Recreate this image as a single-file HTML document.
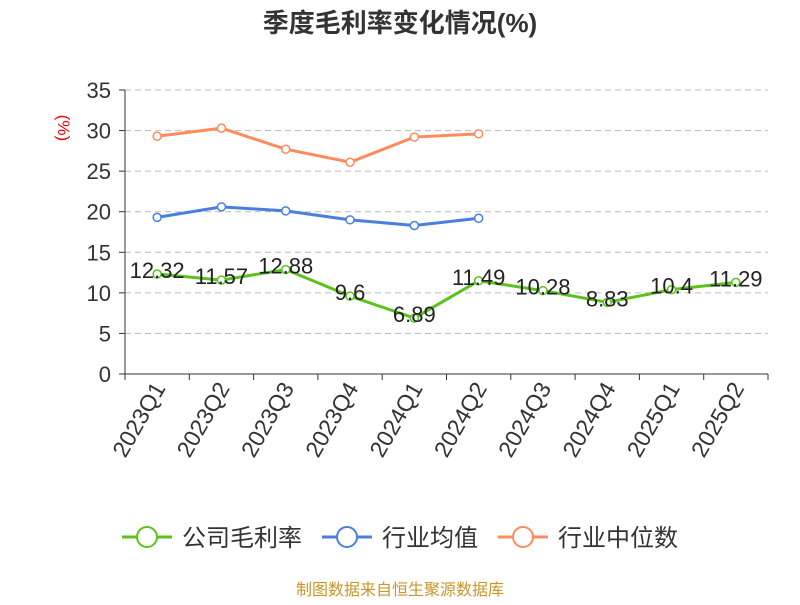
<!DOCTYPE html>
<html><head><meta charset="utf-8"><style>
body{margin:0;background:#fff;}
svg text{font-family:"Liberation Sans","Noto Sans CJK SC",sans-serif;}
</style></head><body>
<svg width="800" height="600" id="c">
<text x="400" y="32" text-anchor="middle" font-size="26" font-weight="bold" fill="#333">季度毛利率变化情况(%)</text>
<text x="58" y="128" text-anchor="middle" font-size="17" fill="#e00" transform="rotate(90 58 128)">(%)</text>
<g id="grid"></g><g id="axes"></g><g id="series"></g>
<g id="legend"></g>
<text x="400" y="595" text-anchor="middle" font-size="16" fill="#c8962a">制图数据来自恒生聚源数据库</text>
</svg>
<script>
const categories=["2023Q1","2023Q2","2023Q3","2023Q4","2024Q1","2024Q2","2024Q3","2024Q4","2025Q1","2025Q2"];
const companyValues=[12.32,11.57,12.88,9.6,6.89,11.49,10.28,8.83,10.4,11.29];
const industryAvg=[19.3,20.6,20.1,19.0,18.3,19.2];
const industryMedian=[29.3,30.3,27.7,26.1,29.2,29.6];
const yTicks=[0,5,10,15,20,25,30,35];
const NS="http://www.w3.org/2000/svg";
const L=125,R=768,T=90,B=374,yMax=35;
const bw=(R-L)/categories.length;
const x=i=>L+bw*(i+0.5);
const y=v=>B-(v/yMax)*(B-T);
function mk(p,tag,a,txt){const e=document.createElementNS(NS,tag);for(const k in a)e.setAttribute(k,a[k]);if(txt!==undefined)e.textContent=txt;document.getElementById(p).appendChild(e);return e;}
yTicks.forEach(t=>{
 if(t>0){const g=mk('grid','line',{x1:L,x2:R,y1:y(t),y2:y(t),stroke:'#bbb','stroke-dasharray':'6,4'});
 
 }
 const tk=mk('axes','line',{x1:L-6,x2:L,y1:y(t),y2:y(t),stroke:'#333'});
 
 
 const lb=mk('axes','text',{x:L-14,y:y(t)+8,'text-anchor':'end','font-size':22,fill:'#333'},t);
 
 
});
const ya=mk('axes','line',{x1:L,x2:L,y1:T,y2:B,stroke:'#333'});


const xa=mk('axes','line',{x1:L,x2:R,y1:B,y2:B,stroke:'#333'});


for(let i=0;i<=categories.length;i++){
 const tk=mk('axes','line',{x1:L+bw*i,x2:L+bw*i,y1:B,y2:B+6,stroke:'#333'});
 
 
}
categories.forEach((c,i)=>{
 const px=x(i)+9,py=B+14;
 const lb=mk('axes','text',{x:px,y:py,'text-anchor':'end','font-size':23,fill:'#333',transform:`rotate(-60 ${px} ${py})`},c);
 
 
});
function series(vals,color,name,labels){
 const pl=mk('series','polyline',{points:vals.map((v,i)=>x(i)+','+y(v)).join(' '),fill:'none',stroke:color,'stroke-width':3});
 
 
 vals.forEach((v,i)=>{
  const c=mk('series','circle',{cx:x(i),cy:y(v),r:4,fill:'#fff',stroke:color,'stroke-width':1.5});
  
  
  if(labels){const t=mk('series','text',{x:x(i),y:y(v)+4,'text-anchor':'middle','font-size':22,fill:'#222'},v);
  
  }
 });
}
series(industryMedian,'#ff8a5b','industry-median',false);
series(industryAvg,'#4a7fe0','industry-average',false);
series(companyValues,'#5bc21d','company-gross-margin',true);
const leg=[["公司毛利率","#5bc21d",122],["行业均值","#4a7fe0",322],["行业中位数","#ff8a5b",498]];
leg.forEach(([n,c,lx])=>{
 const g=mk('legend','g',{});
 
 
 const ln=document.createElementNS(NS,'line');ln.setAttribute('x1',lx);ln.setAttribute('x2',lx+50);ln.setAttribute('y1',537);ln.setAttribute('y2',537);ln.setAttribute('stroke',c);ln.setAttribute('stroke-width',3);g.appendChild(ln);
 const ci=document.createElementNS(NS,'circle');ci.setAttribute('cx',lx+25);ci.setAttribute('cy',537);ci.setAttribute('r',10);ci.setAttribute('fill','#fff');ci.setAttribute('stroke',c);ci.setAttribute('stroke-width',2);g.appendChild(ci);
 const t=document.createElementNS(NS,'text');t.setAttribute('x',lx+60);t.setAttribute('y',546);t.setAttribute('font-size',24);t.setAttribute('fill','#333');t.textContent=n;g.appendChild(t);
});
</script>
</body></html>
